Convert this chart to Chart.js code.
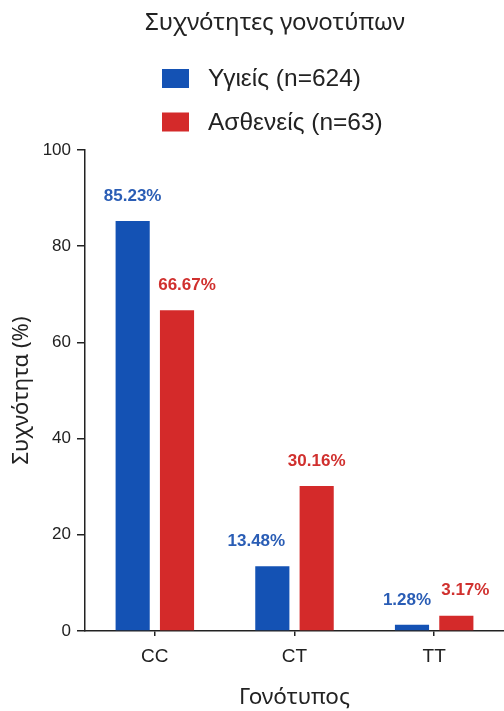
<!DOCTYPE html>
<html>
<head>
<meta charset="utf-8">
<script src="https://cdn.jsdelivr.net/npm/chart.js@4"></script>
<style>
  html, body { margin: 0; padding: 0; background: #ffffff; }
  #wrap { width: 504px; height: 711px; }
</style>
</head>
<body>
<div id="wrap"><canvas id="c" width="504" height="711"></canvas></div>
<script>
// Genotype frequencies (%) per group
const genotypes = ['CC', 'CT', 'TT'];
const healthy = [85.23, 13.48, 1.28];
const patients = [66.67, 30.16, 3.17];
const seriesNames = ['Υγιείς (n=624)', 'Ασθενείς (n=63)'];
const yTicks = [0, 20, 40, 60, 80, 100];

const chartTitle = 'Συχνότητες γονοτύπων';
const xTitle = 'Γονότυπος';
const yTitle = 'Συχνότητα (%)';

const FONT = "'Liberation Sans', Arial, Helvetica, sans-serif";
const TITLE_FONT = "'Noto Sans', 'Open Sans', sans-serif";
const INK = '#222222';
const BLUE = '#1452b4';
const RED = '#d42a2a';
const BLUE_TEXT = '#2a5db5';
const RED_TEXT = '#d0302e';

// Title and stacked legend drawn above the plot
const headerPlugin = {
  id: 'header',
  afterDraw(chart, args, opts) {
    const ctx = chart.ctx;
    ctx.save();
    ctx.fillStyle = INK;
    ctx.font = `normal ${opts.titleSize}px ${TITLE_FONT}`;
    ctx.textAlign = 'center';
    ctx.textBaseline = 'middle';
    ctx.fillText(chartTitle, opts.centerX, opts.titleY);

    ctx.font = `normal ${opts.legendSize}px ${FONT}`;
    ctx.textAlign = 'left';
    chart.data.datasets.forEach((ds, i) => {
      const top = opts.legendTop + i * opts.rowGap;
      ctx.fillStyle = ds.backgroundColor;
      ctx.fillRect(opts.boxX, top, opts.boxW, opts.boxH);
      ctx.fillStyle = INK;
      ctx.fillText(ds.label, opts.textX, top + opts.boxH / 2 + 1);
    });
    ctx.restore();
  }
};

// Percentage labels above each bar
const valueLabelPlugin = {
  id: 'valueLabels',
  afterDatasetsDraw(chart, args, opts) {
    const ctx = chart.ctx;
    ctx.save();
    ctx.font = `bold ${opts.size}px ${FONT}`;
    ctx.textAlign = 'center';
    ctx.textBaseline = 'middle';
    chart.data.datasets.forEach((ds, di) => {
      const meta = chart.getDatasetMeta(di);
      meta.data.forEach((bar, i) => {
        const shift = opts.shift[di][i];
        ctx.fillStyle = opts.colors[di];
        ctx.fillText(ds.data[i].toFixed(2) + '%', bar.x + shift, bar.y - opts.gap);
      });
    });
    ctx.restore();
  }
};

new Chart(document.getElementById('c'), {
  type: 'bar',
  data: {
    labels: genotypes,
    datasets: [
      { label: seriesNames[0], data: healthy, backgroundColor: BLUE, borderWidth: 0 },
      { label: seriesNames[1], data: patients, backgroundColor: RED, borderWidth: 0 }
    ]
  },
  options: {
    responsive: false,
    animation: false,
    devicePixelRatio: 1,
    categoryPercentage: 0.635,
    barPercentage: 0.77,
    layout: { padding: { top: 150, left: 0, right: 0, bottom: 0 } },
    plugins: {
      legend: { display: false },
      title: { display: false },
      tooltip: { enabled: false },
      header: {
        centerX: 275, titleY: 23, titleSize: 24,
        legendSize: 24.5, boxX: 162, legendTop: 69, boxW: 27, boxH: 19,
        rowGap: 43.5, textX: 208
      },
      valueLabels: {
        size: 17, gap: 25,
        colors: [BLUE_TEXT, RED_TEXT],
        shift: [[0, -16, -5], [10, 0, 9]]
      }
    },
    scales: {
      x: {
        afterFit(s) { s.height = 80; },
        grid: {
          display: true, offset: false, drawOnChartArea: false,
          drawTicks: true, tickLength: 5, color: INK, lineWidth: 1.5
        },
        border: { display: true, color: INK, width: 1.5 },
        ticks: { color: INK, font: { family: FONT, size: 19 }, padding: 9 },
        title: {
          display: true, text: xTitle, color: INK,
          font: { family: TITLE_FONT, size: 22.5 }, padding: { top: 0, bottom: 0 }
        }
      },
      y: {
        min: 0, max: 100,
        afterFit(s) { s.width = 85; },
        afterBuildTicks(s) { s.ticks = yTicks.map(v => ({ value: v })); },
        grid: {
          display: true, drawOnChartArea: false, drawTicks: true,
          tickLength: 8, color: INK, lineWidth: 1.5
        },
        border: { display: true, color: INK, width: 1.5 },
        ticks: { color: INK, font: { family: FONT, size: 17 }, padding: 6 },
        title: {
          display: true, text: yTitle, color: INK,
          font: { family: TITLE_FONT, size: 22 }, padding: { top: 9, bottom: 0 }
        }
      }
    }
  },
  plugins: [headerPlugin, valueLabelPlugin]
});
</script>
</body>
</html>
